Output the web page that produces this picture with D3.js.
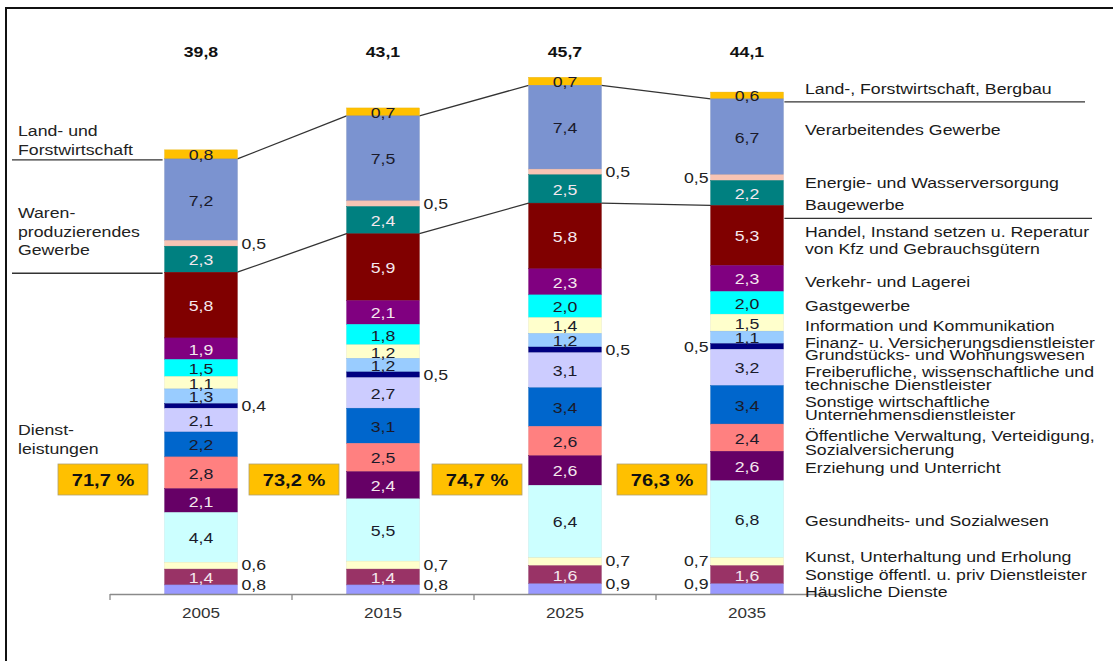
<!DOCTYPE html>
<html><head><meta charset="utf-8">
<script src="https://cdn.jsdelivr.net/npm/d3@7"></script>
<style>
body{margin:0;background:#fff;}
svg{display:block;font-family:"Liberation Sans",Arial,sans-serif;}
</style></head>
<body><svg id="c" width="1115" height="661"></svg>
<script>
// ---------- DATA ----------
const years = ["2005", "2015", "2025", "2035"];
const totals = [39.8, 43.1, 45.7, 44.1];
const servicePct = ["71,7 %", "73,2 %", "74,7 %", "76,3 %"];
// sectors listed from top of the stack to the bottom
const sectors = [
  "Land-, Forstwirtschaft, Bergbau",
  "Verarbeitendes Gewerbe",
  "Energie- und Wasserversorgung",
  "Baugewerbe",
  "Handel, Instand setzen u. Reperatur von Kfz und Gebrauchsgütern",
  "Verkehr- und Lagerei",
  "Gastgewerbe",
  "Information und Kommunikation",
  "Finanz- u. Versicherungsdienstleister",
  "Grundstücks- und Wohnungswesen",
  "Freiberufliche, wissenschaftliche und technische Dienstleister",
  "Sonstige wirtschaftliche Unternehmensdienstleister",
  "Öffentliche Verwaltung, Verteidigung, Sozialversicherung",
  "Erziehung und Unterricht",
  "Gesundheits- und Sozialwesen",
  "Kunst, Unterhaltung und Erholung",
  "Sonstige öffentl. u. priv Dienstleister",
  "Häusliche Dienste"
];
const values2005 = [0.8, 7.2, 0.5, 2.3, 5.8, 1.9, 1.5, 1.1, 1.3, 0.4, 2.1, 2.2, 2.8, 2.1, 4.4, 0.6, 1.4, 0.8];
const values2015 = [0.7, 7.5, 0.5, 2.4, 5.9, 2.1, 1.8, 1.2, 1.2, 0.5, 2.7, 3.1, 2.5, 2.4, 5.5, 0.7, 1.4, 0.8];
const values2025 = [0.7, 7.4, 0.5, 2.5, 5.8, 2.3, 2.0, 1.4, 1.2, 0.5, 3.1, 3.4, 2.6, 2.6, 6.4, 0.7, 1.6, 0.9];
const values2035 = [0.6, 6.7, 0.5, 2.2, 5.3, 2.3, 2.0, 1.5, 1.1, 0.5, 3.2, 3.4, 2.4, 2.6, 6.8, 0.7, 1.6, 0.9];
const legendLines = [
  ["Land-, Forstwirtschaft, Bergbau"],
  ["Verarbeitendes Gewerbe"],
  ["Energie- und Wasserversorgung"],
  ["Baugewerbe"],
  ["Handel, Instand setzen u. Reperatur", "von Kfz und Gebrauchsgütern"],
  ["Verkehr- und Lagerei"],
  ["Gastgewerbe"],
  ["Information und Kommunikation"],
  ["Finanz- u. Versicherungsdienstleister"],
  ["Grundstücks- und Wohnungswesen"],
  ["Freiberufliche, wissenschaftliche und", "technische Dienstleister"],
  ["Sonstige wirtschaftliche", "Unternehmensdienstleister"],
  ["Öffentliche Verwaltung, Verteidigung,", "Sozialversicherung"],
  ["Erziehung und Unterricht"],
  ["Gesundheits- und Sozialwesen"],
  ["Kunst, Unterhaltung und Erholung"],
  ["Sonstige öffentl. u. priv Dienstleister"],
  ["Häusliche Dienste"]
];
const groupLabels = [["Land- und", "Forstwirtschaft"], ["Waren-", "produzierendes", "Gewerbe"], ["Dienst-", "leistungen"]];

// ---------- STYLE ----------
const colors = ["#FFC000", "#7B93D0", "#F8C4B4", "#008080", "#800000", "#800080", "#00FFFF", "#FFFFCC",
  "#99CCFF", "#000080", "#CCCCFF", "#0066CC", "#FF8080", "#660066", "#CCFFFF", "#FFFFCC", "#993366", "#9999FF"];
const lightText = new Set([3, 4, 5, 13, 16]);
const outsideIdx = new Set([2, 9, 15, 17]);
const SX = 1.18; // horizontal stretch of the original typography

const allValues = [values2005, values2015, values2025, values2035];
const svg = d3.select("#c");
const fmt = v => d3.format(".1f")(v).replace(".", ",");

function txt(parent, x, y, s, size, opts = {}) {
  return parent.append("text")
    .attr("transform", `translate(${x},${y}) scale(${SX},1)`)
    .attr("text-anchor", opts.anchor || "start")
    .attr("dominant-baseline", "central")
    .attr("font-size", size)
    .attr("font-weight", opts.bold ? "bold" : "normal")
    .attr("fill", opts.fill || "#222")
    .text(s);
}

const baseY = 594;
const y = d3.scaleLinear().domain([0, 50]).range([baseY, baseY - 566.5]);
const x = d3.scaleBand().domain(years).range([110, 838]).paddingInner(0.6).paddingOuter(0.3);

// frame
svg.append("line").attr("x1", 5).attr("x2", 1113).attr("y1", 8).attr("y2", 8).attr("stroke", "#111").attr("stroke-width", 2);
svg.append("line").attr("x1", 6).attr("x2", 6).attr("y1", 8).attr("y2", 661).attr("stroke", "#111").attr("stroke-width", 2);

// stack (bottom first)
const rows = years.map((yr, i) => {
  const o = { year: yr };
  sectors.forEach((s, j) => o[s] = allValues[i][j]);
  return o;
});
const keysBottomUp = sectors.slice().reverse();
const stacked = d3.stack().keys(keysBottomUp)(rows);
const seg = sectors.map(s => stacked.find(l => l.key === s));

// connecting lines (top of Verarbeitendes, top of Handel)
const bw = x.bandwidth();
[1, 4].forEach(si => {
  const pts = years.map((yr, i) => y(seg[si][i][1]));
  for (let i = 0; i < years.length - 1; i++) {
    svg.append("line")
      .attr("x1", x(years[i]) + bw).attr("y1", pts[i])
      .attr("x2", x(years[i + 1])).attr("y2", pts[i + 1])
      .attr("stroke", "#333").attr("stroke-width", 1.3);
  }
});
// left separator lines at 2005 boundaries
[1, 4].forEach(si => {
  svg.append("line").attr("x1", 12).attr("x2", x(years[0]) - 2)
    .attr("y1", y(seg[si][0][1]) + 1).attr("y2", y(seg[si][0][1]) + 1)
    .attr("stroke", "#333").attr("stroke-width", 1.3);
});
// right separator lines
const lastI = years.length - 1;
[[1, 1085, 3], [4, 1092, 13]].forEach(([si, xEnd, dy]) => {
  const yy = y(seg[si][lastI][1]) + dy;
  svg.append("line").attr("x1", x(years[lastI]) + bw + 1).attr("x2", xEnd)
    .attr("y1", yy).attr("y2", yy).attr("stroke", "#333").attr("stroke-width", 1.3);
});

// bars
sectors.forEach((s, si) => {
  svg.append("g").selectAll("rect").data(seg[si]).join("rect")
    .attr("x", d => x(d.data.year))
    .attr("width", bw)
    .attr("y", d => y(d[1]))
    .attr("height", d => y(d[0]) - y(d[1]))
    .attr("fill", colors[si])
    .attr("stroke", d3.color(colors[si]).darker(0.3))
    .attr("stroke-width", 0.4);
});

// axis
const axisG = svg.append("g");
axisG.append("line").attr("x1", 110).attr("x2", 838).attr("y1", baseY + 0.5).attr("y2", baseY + 0.5)
  .attr("stroke", "#8a8a8a").attr("stroke-width", 1.3);
const step = x.step();
years.forEach((yr, i) => {
  const tx = x(yr) - x.paddingOuter() * step;
  axisG.append("line").attr("x1", tx).attr("x2", tx).attr("y1", baseY).attr("y2", baseY + 6)
    .attr("stroke", "#8a8a8a").attr("stroke-width", 1.3);
  txt(axisG, x(yr) + bw / 2, 613, yr, 14.5, { anchor: "middle", fill: "#333" });
});

// value labels
sectors.forEach((s, si) => {
  seg[si].forEach((d, yi) => {
    const v = allValues[yi][si];
    const cy = (y(d[0]) + y(d[1])) / 2;
    if (outsideIdx.has(si)) {
      const dy = si === 17 ? -5 : (si === 15 ? -1 : 0);
      if (yi === lastI) txt(svg, x(years[yi]) - 2, cy + dy, fmt(v), 15, { anchor: "end", fill: "#222" });
      else txt(svg, x(years[yi]) + bw + 4, cy + dy, fmt(v), 15, { anchor: "start", fill: "#222" });
    } else {
      txt(svg, x(years[yi]) + bw / 2, cy + 0.5, fmt(v), 15,
        { anchor: "middle", fill: lightText.has(si) ? "#f4e8ee" : "#1a1a2a" });
    }
  });
});

// totals
years.forEach((yr, i) => {
  txt(svg, x(yr) + bw / 2, 52, fmt(totals[i]), 15, { anchor: "middle", bold: true, fill: "#111" });
});

// percentage boxes
const boxX = [58, 249, 432, 617];
servicePct.forEach((p, i) => {
  const g = svg.append("g").attr("transform", `translate(${boxX[i]},464)`);
  g.append("rect").attr("width", 90).attr("height", 31).attr("fill", "#FFC000").attr("stroke", "#b0a070").attr("stroke-width", 0.8);
  txt(g, 45, 16, p, 17, { anchor: "middle", bold: true, fill: "#111" });
});

// left group labels
const groupTop = [131, 213, 430];
groupLabels.forEach((lines, gi) => {
  lines.forEach((l, li) => txt(svg, 18, groupTop[gi] + li * 18.5, l, 15, { fill: "#222" }));
});

// right legend (layout positions: vertical centre of first line)
const legendY = [89, 130, 183, 205, 232, 282, 306, 326, 343, 355, 372, 402, 436, 468, 521, 557, 575, 592];
const lineGap = [0, 0, 0, 0, 17, 0, 0, 0, 0, 0, 12.5, 12.5, 14, 0, 0, 0, 0, 0];
legendLines.forEach((lines, i) => {
  lines.forEach((l, li) => txt(svg, 805, legendY[i] + li * lineGap[i], l, 15, { fill: "#1a1a1a" }));
});
</script></body></html>
